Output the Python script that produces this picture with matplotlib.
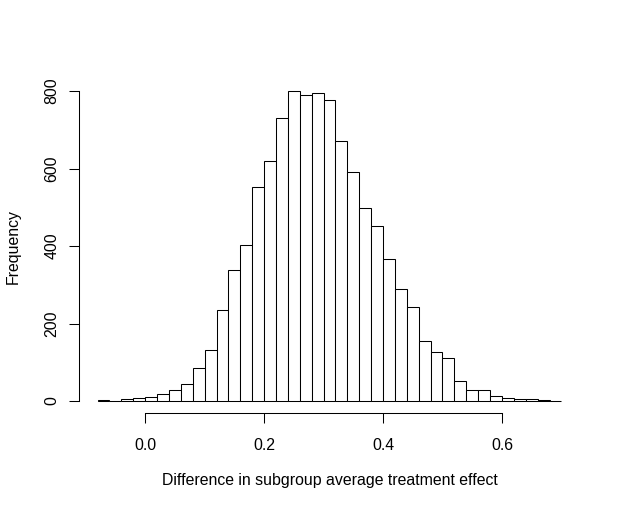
import matplotlib
matplotlib.use("Agg")
import matplotlib.pyplot as plt
import numpy as np

plt.rcParams['font.family'] = ['Liberation Sans', 'DejaVu Sans']

bin_edges = np.round(np.arange(-0.08, 0.7001, 0.02), 2)
counts = [3, 1, 5, 8, 11, 17, 28, 43, 84, 131, 236, 338, 403, 551, 619, 731,
          800, 789, 794, 776, 670, 591, 499, 452, 366, 289, 242, 156, 126, 112,
          51, 28, 28, 12, 9, 4, 4, 3, 1]
x_ticks = [0.0, 0.2, 0.4, 0.6]
x_tick_labels = ["0.0", "0.2", "0.4", "0.6"]
y_ticks = [0, 200, 400, 600, 800]
x_label = "Difference in subgroup average treatment effect"
y_label = "Frequency"

FS = 11.4

fig = plt.figure(figsize=(6.2, 5.12), dpi=100)
ax = fig.add_axes([79/620, 1-413.4/512, 501/620, 334.8/512])

widths = np.diff(bin_edges)
ax.bar(bin_edges[:-1], counts, width=widths, align='edge', facecolor='white',
       edgecolor='black', linewidth=0.75)

xr = bin_edges[-1] - bin_edges[0]
ax.set_xlim(bin_edges[0] - 0.04*xr, bin_edges[-1] + 0.04*xr)
ax.set_ylim(-0.04*800, 800*1.04)

for s in ['top', 'right']:
    ax.spines[s].set_visible(False)
ax.spines['left'].set_bounds(0, 800)
ax.spines['bottom'].set_bounds(0, 0.6)
for s in ['left', 'bottom']:
    ax.spines[s].set_linewidth(0.75)

ax.set_xticks(x_ticks)
ax.set_xticklabels(x_tick_labels)
ax.set_yticks(y_ticks)
ax.tick_params(axis='both', direction='out', length=7.2, width=0.75, labelsize=FS)
ax.tick_params(axis='x', pad=10.5)
ax.tick_params(axis='y', pad=7)
for lab in ax.get_yticklabels():
    lab.set_rotation(90)
    lab.set_va('center')

ax.set_xlabel(x_label, fontsize=FS)
ax.xaxis.set_label_coords(0.5, (413.4-481)/334.8)
ax.xaxis.label.set_va('center')
ax.set_ylabel(y_label, fontsize=FS)
ax.yaxis.set_label_coords((13.5-79)/501, 0.5)
ax.yaxis.label.set_va('center')

fig.savefig("out.png", dpi=100)
